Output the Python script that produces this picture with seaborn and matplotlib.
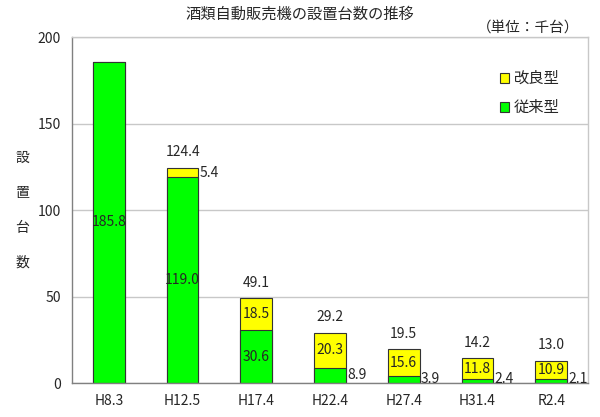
import pandas as pd
import seaborn as sns
import matplotlib.pyplot as plt
from matplotlib.patches import Patch

# data (単位: 千台)
periods = ["H8.3", "H12.5", "H17.4", "H22.4", "H27.4", "H31.4", "R2.4"]
conventional = [185.8, 119.0, 30.6, 8.9, 3.9, 2.4, 2.1]   # 従来型
improved = [0.0, 5.4, 18.5, 20.3, 15.6, 11.8, 10.9]       # 改良型
totals = [185.8, 124.4, 49.1, 29.2, 19.5, 14.2, 13.0]

df = pd.DataFrame({"period": periods, "conv": conventional,
                   "impr": improved, "total": totals})

sns.set_style("white")
plt.rcParams["font.family"] = ["Noto Sans CJK JP", "DejaVu Sans"]

green = "#00ff00"
yellow = "#ffff00"

fig = plt.figure(figsize=(6, 4.17), dpi=100)
ax = fig.add_axes([0.12, 0.0815, 0.86, 0.8295])

# stacked: draw totals in yellow, conventional in green on top of it
sns.barplot(data=df, x="period", y="total", color=yellow, width=0.43,
            edgecolor="#333333", linewidth=0.8, saturation=1, ax=ax)
sns.barplot(data=df, x="period", y="conv", color=green, width=0.43,
            edgecolor="#333333", linewidth=0.8, saturation=1, ax=ax)

ax.set_ylim(0, 200)
ax.set_xlim(-0.5, 6.5)
ax.set_yticks([0, 50, 100, 150, 200])
ax.yaxis.grid(True, color="#c8c8c8", linewidth=1)
ax.set_axisbelow(True)
ax.set_xlabel("")
ax.set_ylabel("")

for s in ["top", "right"]:
    ax.spines[s].set_color("#c8c8c8")
for s in ["left", "bottom"]:
    ax.spines[s].set_color("#808080")
for s in ax.spines.values():
    s.set_linewidth(1)

ax.tick_params(axis="y", length=5, width=1, color="#808080", labelsize=10, pad=3)
ax.tick_params(axis="x", which="major", length=0, labelsize=10, pad=8)
ax.set_xticks([i - 0.5 for i in range(len(periods) + 1)], minor=True)
ax.tick_params(axis="x", which="minor", length=4, width=1, color="#808080", direction="out")

# data labels
half = 0.215
for i in range(len(periods)):
    c, m, t = conventional[i], improved[i], totals[i]
    if c > 20:
        ax.text(i, c / 2, f"{c:.1f}", ha="center", va="center", fontsize=10)
    else:
        ax.text(i + half + 0.02, max(c / 2, 2.2), f"{c:.1f}", ha="left", va="center", fontsize=10)
    if m > 0:
        if m > 10:
            ax.text(i, c + m / 2, f"{m:.1f}", ha="center", va="center", fontsize=10)
        else:
            ax.text(i + half + 0.02, c + m / 2, f"{m:.1f}", ha="left", va="center", fontsize=10)
        ax.text(i, t + 9, f"{t:.1f}", ha="center", va="center", fontsize=10)

# titles
fig.text(0.5, 0.966, "酒類自動販売機の設置台数の推移", ha="center", va="center", fontsize=11)
fig.text(0.965, 0.935, "（単位：千台）", ha="right", va="center", fontsize=10.5)
for k, ch in enumerate("設置台数"):
    fig.text(0.037, 1 - (158 + 35 * k) / 417, ch, ha="center", va="center", fontsize=10)

handles = [Patch(facecolor=yellow, edgecolor="#333333", linewidth=0.8),
           Patch(facecolor=green, edgecolor="#333333", linewidth=0.8)]
fig.legend(handles, ["改良型", "従来型"], loc="upper left",
           bbox_to_anchor=(0.81, 0.865), frameon=False, fontsize=11,
           handlelength=0.6, handleheight=0.6, handletextpad=0.3,
           labelspacing=0.8)

fig.savefig("out.png", dpi=100)
